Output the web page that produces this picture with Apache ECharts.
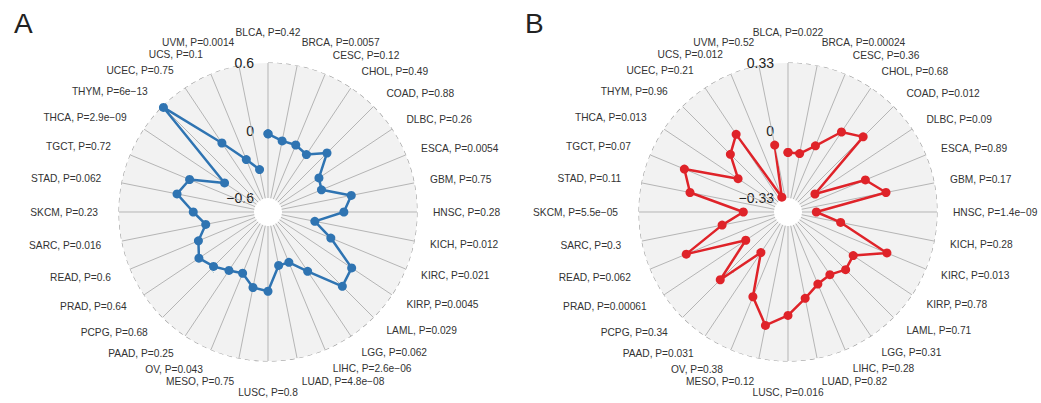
<!DOCTYPE html>
<html><head><meta charset="utf-8">
<script src="https://cdn.jsdelivr.net/npm/echarts@6/dist/echarts.min.js"></script>
<style>html,body{margin:0;padding:0;background:#fff}#chart{width:1041px;height:403px}</style>
</head><body><div id="chart"></div>
<script>
const cancerTypes = ['BLCA','BRCA','CESC','CHOL','COAD','DLBC','ESCA','GBM','HNSC','KICH','KIRC','KIRP','LAML','LGG','LIHC','LUAD','LUSC','MESO','OV','PAAD','PCPG','PRAD','READ','SARC','SKCM','STAD','TGCT','THCA','THYM','UCEC','UCS','UVM'];
const pValuesA = ['0.42','0.0057','0.12','0.49','0.88','0.26','0.0054','0.75','0.28','0.012','0.021','0.0045','0.029','0.062','2.6e\u221206','4.8e\u221208','0.8','0.75','0.043','0.25','0.68','0.64','0.6','0.016','0.23','0.062','0.72','2.9e\u221209','6e\u221213','0.75','0.1','0.0014'];
const pValuesB = ['0.022','0.00024','0.36','0.68','0.012','0.09','0.89','0.17','1.4e\u221209','0.28','0.013','0.78','0.71','0.31','0.28','0.82','0.016','0.12','0.38','0.031','0.34','0.00061','0.062','0.3','5.5e\u221205','0.11','0.07','0.013','0.96','0.21','0.012','0.52'];
const corrA = [-0.03,-0.08,-0.08,-0.11,0.017,-0.18,-0.21,0.03,-0.05,-0.30,-0.12,0.17,0.21,-0.09,-0.24,-0.24,-0.02,-0.04,-0.135,-0.10,-0.04,0.014,-0.055,-0.16,-0.06,0.10,0.03,-0.26,0.59,0.013,-0.22,-0.34];
const corrB = [-0.107,-0.107,-0.048,0.072,0.121,-0.24,0.011,0.09,-0.26,-0.136,0.125,-0.015,0.0,-0.03,-0.017,0.032,0.107,0.167,0.05,-0.16,0.07,-0.15,0.14,-0.07,-0.18,0.09,0.15,-0.105,0.0,0.058,-0.32,-0.065];
const ticksA = [-0.6, 0, 0.6];
const ticksB = [-0.33, 0, 0.33];
const panelLetters = ['A', 'B'];

const chart = echarts.init(document.getElementById('chart'), null, {renderer: 'svg'});
const FONT = "'Liberation Sans', Arial, Helvetica, sans-serif";
const centers = [[268, 212], [788, 212]];

function fmtTick(v) {
  if (Math.abs(v) < 1e-9) return '0';
  return String(v).replace('-', '\u2212');
}

function polarAxes(i, ticks) {
  return {
    angle: {
      polarIndex: i, type: 'category', data: cancerTypes, boundaryGap: false,
      startAngle: 90, clockwise: true, z: 3,
      axisLine: {show: false}, axisTick: {show: false, interval: 0}, axisLabel: {show: false, interval: 0},
      splitLine: {show: true, interval: 0, lineStyle: {color: '#b5b5b5', width: 1}},
      splitArea: {show: false}
    },
    radius: {
      polarIndex: i, type: 'value', min: ticks[0], max: ticks[2], interval: ticks[2], z: 1,
      axisLine: {show: false}, axisTick: {show: false},
      axisLabel: {show: true, margin: 14, fontSize: 14, color: '#222', fontFamily: FONT, formatter: fmtTick},
      splitLine: {show: true, lineStyle: {color: ['rgba(0,0,0,0)', '#4e8e98', '#a0a0a0'], type: [5, 4], width: 1.1}},
      splitArea: {show: true, areaStyle: {color: ['#f2f2f2']}}
    }
  };
}

function labelSeries(i, pvals, rmax) {
  return {
    type: 'custom', coordinateSystem: 'polar', polarIndex: i, clip: false, silent: true, z: 5,
    data: cancerTypes.map(c => [rmax, c]),
    renderItem: function (params, api) {
      const idx = params.dataIndex;
      const cs = params.coordSys;
      const p = api.coord([rmax, idx]);
      const dx = p[0] - cs.cx, dy = p[1] - cs.cy;
      const len = Math.sqrt(dx * dx + dy * dy) || 1;
      const ux = dx / len, uy = dy / len;
      const vertical = Math.abs(ux) < 0.05;
      const nearVertical = Math.abs(uy) > 0.95;
      let R = cs.r + (vertical ? 31 : (ux > 0 ? 16 + 5 * uy * uy : 21));
      if (!vertical && nearVertical) R += 3;
      const align = vertical ? 'center' : (ux > 0 ? 'left' : 'right');
      return {
        type: 'text', x: cs.cx + ux * R, y: cs.cy + uy * R,
        style: {
          text: cancerTypes[idx] + ', P=' + pvals[idx], fill: '#333',
          fontSize: 10.2, fontFamily: FONT,
          align: align, verticalAlign: 'middle', textAlign: align, textVerticalAlign: 'middle'
        }
      };
    }
  };
}

function lineSeries(i, vals, color) {
  const d = vals.map((v, k) => [v, cancerTypes[k]]);
  d.push([vals[0], cancerTypes[0]]);
  return {
    type: 'line', coordinateSystem: 'polar', polarIndex: i, data: d,
    symbol: 'circle', symbolSize: 9, showSymbol: true, showAllSymbol: true,
    lineStyle: {color: color, width: 2.5}, itemStyle: {color: color}, z: 8
  };
}

const axA = polarAxes(0, ticksA), axB = polarAxes(1, ticksB);

chart.setOption({
  animation: false,
  title: [
    {text: panelLetters[0], left: 9, top: 4, textStyle: {fontSize: 28, fontWeight: 'normal', color: '#222', fontFamily: FONT}},
    {text: panelLetters[1], left: 520, top: 4, textStyle: {fontSize: 28, fontWeight: 'normal', color: '#222', fontFamily: FONT}}
  ],
  polar: [
    {center: centers[0], radius: [14, 149]},
    {center: centers[1], radius: [14, 149]}
  ],
  angleAxis: [axA.angle, axB.angle],
  radiusAxis: [axA.radius, axB.radius],
  series: [
    labelSeries(0, pValuesA, ticksA[2]),
    labelSeries(1, pValuesB, ticksB[2]),
    lineSeries(0, corrA, '#2f74b2'),
    lineSeries(1, corrB, '#df2329')
  ]
});
</script></body></html>
